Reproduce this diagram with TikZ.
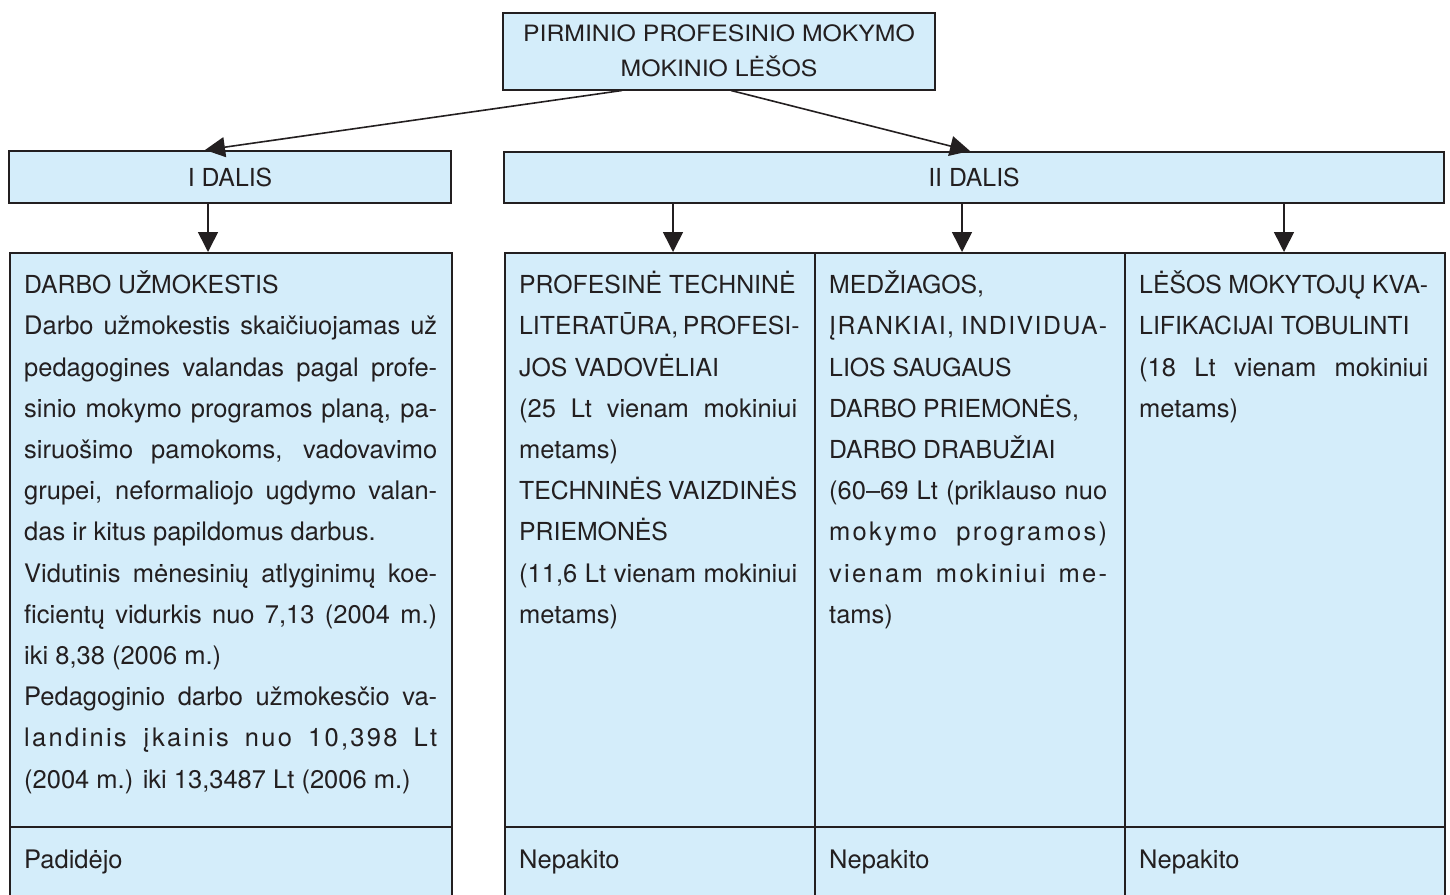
\documentclass[tikz,border=0pt]{standalone}
\usepackage{fontspec}
\setmainfont{TeX Gyre Heros}
\newfontfamily\titlefont[FakeStretch=1.1]{TeX Gyre Heros}
\usetikzlibrary{arrows.meta,calc}
\definecolor{boxfill}{RGB}{212,237,250}
\definecolor{ink}{RGB}{35,31,32}
\newcommand{\jl}[2]{\makebox[#1][s]{#2}}
\newcommand{\lsp}{\addfontfeatures{LetterSpace=9}}
\newcommand{\lsq}{\addfontfeatures{LetterSpace=6}}
\newcommand{\natsp}{\spaceskip=0pt\xspaceskip=0pt }
\newcommand{\cp}[1]{{\fontsize{24.8}{41.2}\selectfont #1}}
\begin{document}
\begin{tikzpicture}[x=1pt,y=-1pt,
  box/.style={draw=ink, line width=2pt, fill=boxfill, inner sep=0pt, text=ink},
  arr/.style={draw=ink, line width=1.6pt, -{Triangle[length=20pt,width=20pt]}},
  rule/.style={draw=ink, line width=2pt},
  txt/.style={anchor=north west, inner sep=0pt, align=left, text=ink,
    font=\fontsize{25.5}{41.2}\selectfont},
  lbl/.style={anchor=base west, inner sep=0pt, text=ink, font=\fontsize{25.5}{28}\selectfont}]
\useasboundingbox (0,0) rectangle (1450,894);
% top
\node[box, minimum width=432pt, minimum height=77pt, align=center,
  font=\titlefont\fontsize{22.5}{35}\selectfont] (top) at (719,51)
  {\natsp PIRMINIO PROFESINIO MOKYMO\\MOKINIO LĖŠOS};
\node[box, minimum width=442pt, minimum height=52pt, font=\fontsize{24.8}{28}\selectfont] (d1) at (230,177) {I DALIS};
\node[box, minimum width=940pt, minimum height=51pt, font=\fontsize{24.8}{28}\selectfont] (d2) at (974,177.5) {II DALIS};
% content boxes
\node[box, minimum width=442pt, minimum height=680pt, anchor=north west] (c1) at (9,252) {};
\node[box, minimum width=310pt, minimum height=680pt, anchor=north west] (c2) at (504,252) {};
\node[box, minimum width=310pt, minimum height=680pt, anchor=north west] (c3) at (814,252) {};
\node[box, minimum width=320pt, minimum height=680pt, anchor=north west] (c4) at (1124,252) {};
\draw[rule] (c1.west |- 0,826.7) -- (c1.east |- 0,826.7);
\draw[rule] (c2.west |- 0,826.7) -- (c4.east |- 0,826.7);
% arrows
\coordinate (s1) at ($(top.south)+(-97,0)$);
\coordinate (e1) at ($(d1.north)+(-25,0)$);
\coordinate (s2) at ($(top.south)+(12,0)$);
\coordinate (e2) at ($(d2.north)+(-4,0)$);
\draw[arr] (s1) -- (e1);
\draw[arr] (s2) -- (e2);
\coordinate (a1) at ($(d1.south)+(-22,0)$);
\coordinate (a2) at ($(d2.south)+(-301,0)$);
\coordinate (a3) at ($(d2.south)+(-12,0)$);
\coordinate (a4) at ($(d2.south)+(310,0)$);
\draw[arr] (a1) -- (a1 |- c1.north);
\draw[arr] (a2) -- (a2 |- c2.north);
\draw[arr] (a3) -- (a3 |- c3.north);
\draw[arr] (a4) -- (a4 |- c4.north);
% texts
\node[txt, text width=413pt] (t1) at (24,264.7) {\natsp\strut\cp{DARBO UŽMOKESTIS}\\
\jl{413pt}{Darbo užmokestis skaičiuojamas už}\\
\jl{413pt}{pedagogines valandas pagal profe-}\\
\jl{413pt}{sinio mokymo programos planą, pa-}\\
\jl{413pt}{siruošimo pamokoms, vadovavimo}\\
\jl{413pt}{grupei, neformaliojo ugdymo valan-}\\
das ir kitus papildomus darbus.\\
\jl{413pt}{Vidutinis mėnesinių atlyginimų koe-}\\
\jl{413pt}{ficientų vidurkis nuo 7,13 (2004 m.)}\\
iki 8,38 (2006 m.)\\
\jl{413pt}{Pedagoginio darbo užmokesčio va-}\\
\jl{413pt}{\lsp landinis įkainis nuo 10,398 Lt}\\
(2004 m.) iki 13,3487 Lt (2006 m.)};
\node[txt, text width=278pt] (t2) at (519,264.7) {\natsp\strut\cp{PROFESINĖ TECHNINĖ}\\
\cp{\jl{278pt}{LITERATŪRA, PROFESI-}}\\
\cp{JOS VADOVĖLIAI}\\
\jl{278pt}{(25 Lt vienam mokiniui}\\
metams)\\
\cp{\jl{278pt}{TECHNINĖS VAIZDINĖS}}\\
\cp{PRIEMONĖS}\\
\jl{278pt}{(11,6 Lt vienam mokiniui}\\
metams)};
\node[txt, text width=278pt] (t3) at (829,264.7) {\natsp\strut\cp{MEDŽIAGOS,}\\
\cp{\jl{278pt}{\lsq ĮRANKIAI, INDIVIDUA-}}\\
\cp{LIOS SAUGAUS}\\
\cp{DARBO PRIEMONĖS,}\\
\cp{DARBO DRABUŽIAI}\\
\jl{278pt}{(60–69 Lt (priklauso nuo}\\
\jl{278pt}{\lsp mokymo programos)}\\
\jl{278pt}{\lsp vienam mokiniui me-}\\
tams)};
\node[txt, text width=289pt] (t4) at (1139,264.7) {\natsp\strut\cp{LĖŠOS MOKYTOJŲ KVA-}\\
\cp{LIFIKACIJAI TOBULINTI}\\
\jl{289pt}{(18 Lt vienam mokiniui}\\
metams)};
\node[lbl] (b1) at (24,868) {Padidėjo};
\node[lbl] (b2) at (519,868) {Nepakito};
\node[lbl] (b3) at (829,868) {Nepakito};
\node[lbl] (b4) at (1139,868) {Nepakito};
\end{tikzpicture}
\end{document}
